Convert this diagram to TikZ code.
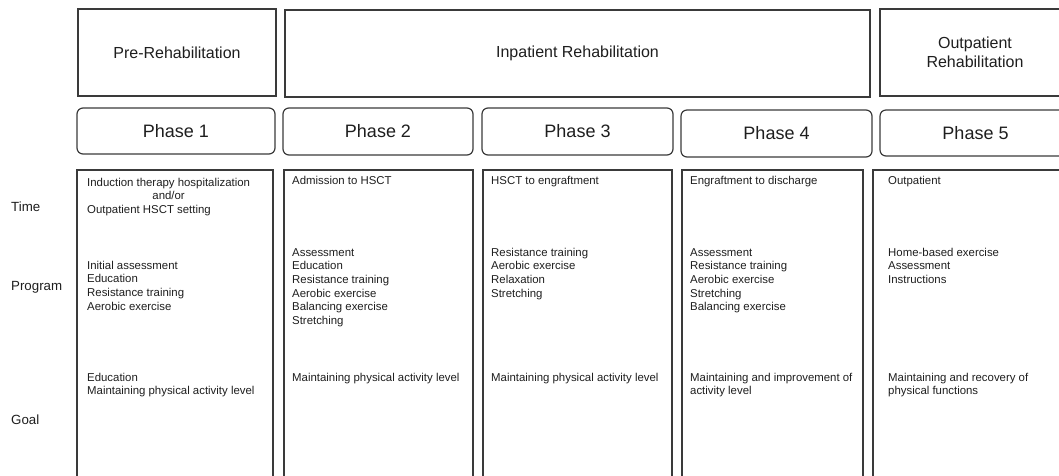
\documentclass[tikz,border=0pt]{standalone}
\usepackage{fontspec}
\setmainfont{Liberation Sans}
\definecolor{bordc}{HTML}{3A3A3A}
\definecolor{txtc}{HTML}{1E1E1E}
\newcommand{\blk}[1]{\begin{tabular}{@{}l@{}}#1\end{tabular}}
\tikzset{
  hdr/.style={draw=bordc, line width=1.2pt, inner sep=0pt, outer sep=0pt, anchor=north west,
    font=\fontsize{16}{19}\selectfont, align=center, text=txtc},
  phasebox/.style={hdr, rounded corners=6pt, font=\fontsize{18}{21}\selectfont},
  colbox/.style={draw=bordc, line width=1.2pt, inner sep=0pt, outer sep=0pt, anchor=north west, minimum height=330pt},
  txt/.style={inner sep=0pt, anchor=north west, font=\fontsize{11.4}{13.7}\selectfont, text=txtc},
  side/.style={inner sep=0pt, anchor=west, font=\fontsize{13.3}{16}\selectfont, text=txtc}
}
\begin{document}
\begin{tikzpicture}[x=1pt,y=-1pt]
\useasboundingbox (0,0) rectangle (1059,475);
\clip (0,0) rectangle (1059,475);
% header boxes
\node[hdr, minimum width=198pt, minimum height=87pt] (h1) at (78,9) {Pre-Rehabilitation};
\node[hdr, minimum width=585pt, minimum height=87pt] (h2) at (285,10) {Inpatient Rehabilitation};
\node[hdr, minimum width=190pt, minimum height=87pt] (h3) at (880,9) {Outpatient\\Rehabilitation};
% phase boxes
\node[phasebox, minimum width=198pt, minimum height=46pt] (p1) at (77,108) {Phase 1};
\node[phasebox, minimum width=190pt, minimum height=47pt] (p2) at (283,108) {Phase 2};
\node[phasebox, minimum width=191pt, minimum height=47pt] (p3) at (482,108) {Phase 3};
\node[phasebox, minimum width=191pt, minimum height=47pt] (p4) at (681,110) {Phase 4};
\node[phasebox, minimum width=191pt, minimum height=46pt] (p5) at (880,110) {Phase 5};
% column boxes
\node[colbox, minimum width=196pt] (c1) at (77,170) {};
\node[colbox, minimum width=189pt] (c2) at (284,170) {};
\node[colbox, minimum width=189pt] (c3) at (483,170) {};
\node[colbox, minimum width=181pt] (c4) at (682,170) {};
\node[colbox, minimum width=196pt] (c5) at (873,170) {};
% side labels
\node[side] (lt) at (11,207) {Time};
\node[side] (lp) at (11,287) {Program};
\node[side] (lg) at (11,420) {Goal};
% time row
\node[txt] (t1) at (87,176.4) {\begin{tabular}{@{}l@{}}Induction therapy hospitalization\\ \multicolumn{1}{@{}c@{}}{and/or}\\ Outpatient HSCT setting\end{tabular}};
\node[txt] (t2) at (292,174.4) {\blk{Admission to HSCT}};
\node[txt] (t3) at (491,174.4) {\blk{HSCT to engraftment}};
\node[txt] (t4) at (690,174.4) {\blk{Engraftment to discharge}};
\node[txt] (t5) at (888,174.4) {\blk{Outpatient}};
% program row
\node[txt] (r1) at (87,259.4) {\blk{Initial assessment\\Education\\Resistance training\\Aerobic exercise}};
\node[txt] (r2) at (292,246.4) {\blk{Assessment\\Education\\Resistance training\\Aerobic exercise\\Balancing exercise\\Stretching}};
\node[txt] (r3) at (491,246.4) {\blk{Resistance training\\Aerobic exercise\\Relaxation\\Stretching}};
\node[txt] (r4) at (690,246.4) {\blk{Assessment\\Resistance training\\Aerobic exercise\\Stretching\\Balancing exercise}};
\node[txt] (r5) at (888,246.4) {\blk{Home-based exercise\\Assessment\\Instructions}};
% goal row
\node[txt] (g1) at (87,371.4) {\blk{Education\\Maintaining physical activity level}};
\node[txt] (g2) at (292,371.4) {\blk{Maintaining physical activity level}};
\node[txt] (g3) at (491,371.4) {\blk{Maintaining physical activity level}};
\node[txt] (g4) at (690,371.4) {\blk{Maintaining and improvement of\\activity level}};
\node[txt] (g5) at (888,371.4) {\blk{Maintaining and recovery of\\physical functions}};
\end{tikzpicture}
\end{document}
